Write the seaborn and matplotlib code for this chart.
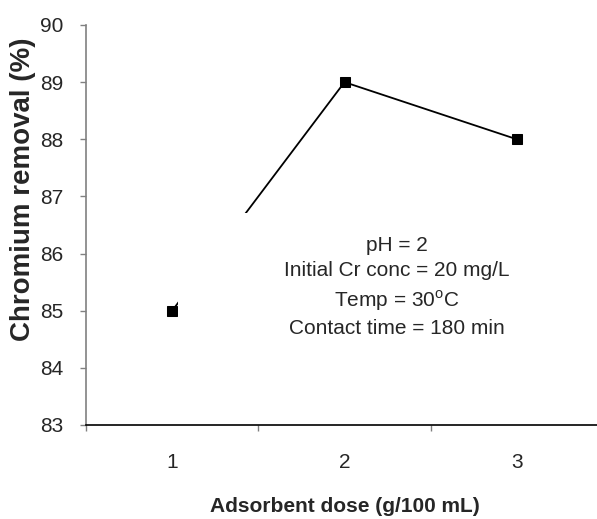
import matplotlib
matplotlib.use("Agg")
import matplotlib.pyplot as plt
import seaborn as sns
from matplotlib.patches import Rectangle

# data
dose = [1, 2, 3]
removal = [85, 89, 88]
y_ticks = [83, 84, 85, 86, 87, 88, 89, 90]
notes = ["pH = 2", "Initial Cr conc = 20 mg/L", "Temp = 30$^{\\mathrm{o}}$C", "Contact time = 180 min"]

sns.set_style("white")
plt.rcParams['font.family'] = ['Liberation Sans', 'DejaVu Sans']
plt.rcParams['mathtext.fontset'] = 'custom'
plt.rcParams['mathtext.rm'] = 'Liberation Sans'

fig = plt.figure(figsize=(5.97, 5.19), dpi=100)
# axes run off the right edge like the cropped original
ax = fig.add_axes([86 / 597, 94 / 519, 517 / 597, 400 / 519])

sns.lineplot(x=dose, y=removal, marker='s', color='black', linewidth=1.3,
             markersize=7, markeredgecolor='black', ax=ax, zorder=2)

# white text box hides part of the first segment
ax.add_patch(Rectangle((0.178, 0.16), 0.86, 0.37, transform=ax.transAxes,
                       facecolor='white', edgecolor='none', zorder=3))
ax.text(0.6015, 0.345, "\n".join(notes), transform=ax.transAxes, ha='center',
        va='center', fontsize=15, linespacing=1.42, zorder=4)

ax.set_xlim(0.5, 3.5)
ax.set_ylim(83, 90)
ax.set_yticks(y_ticks)
ax.set_xticks(dose)
ax.set_xticks([0.5, 1.5, 2.5, 3.5], minor=True)
ax.tick_params(axis='x', which='major', length=0, pad=20, labelsize=15)
ax.tick_params(axis='x', which='minor', length=4, width=1, color='#808080', direction='out', bottom=True)
ax.tick_params(axis='y', which='major', length=4, width=1, color='#808080', pad=12,
               labelsize=15, direction='out', left=True)

for s in ['top', 'right']:
    ax.spines[s].set_visible(False)
ax.spines['left'].set_color('#808080')
ax.spines['left'].set_linewidth(1.2)
ax.spines['bottom'].set_color('black')
ax.spines['bottom'].set_linewidth(1.2)

ax.set_xlabel("Adsorbent dose (g/100 mL)", fontsize=15, fontweight='bold', labelpad=18)
ax.set_ylabel("Chromium removal (%)", fontsize=20, fontweight='bold')
ax.yaxis.set_label_coords(-0.097, 0.59)

fig.savefig("out.png", dpi=100)
